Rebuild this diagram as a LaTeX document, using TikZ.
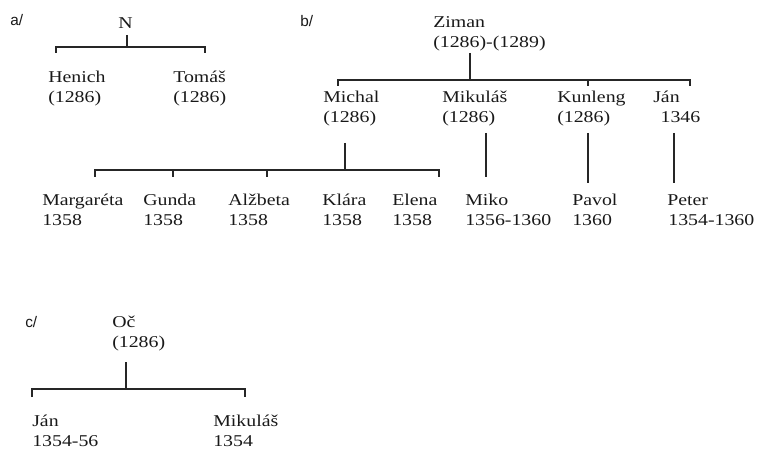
\documentclass[tikz,border=0pt]{standalone}
\usepackage{fontspec}
\setmainfont[FakeStretch=1.2]{Liberation Serif}
\newfontfamily\lblfont{Liberation Sans}
\begin{document}
\begin{tikzpicture}[x=0.75pt,y=-0.75pt,
  person/.style={anchor=north west,inner sep=0pt,align=left,text=black!90,
    font=\fontsize{12.4}{15}\selectfont},
  part/.style={anchor=base west,inner sep=0pt,text=black!90,font=\lblfont\fontsize{11.5}{13}\selectfont},
  link/.style={line width=0.8pt,draw=black!85}]
\useasboundingbox (0,0) rectangle (758,453);
% labels
\node[part] (la) at (10,26) {a/};
\node[part] (lb) at (300,27) {b/};
\node[part] (lc) at (25,327) {c/};
% tree a
\node[person] (N) at (118,14) {\strut N};
\node[person] (Henich) at (48,68) {\strut Henich\\\strut(1286)};
\node[person] (Tomas) at (173,68) {\strut Tomáš\\\strut(1286)};
% tree b
\node[person] (Ziman) at (433,13) {\strut Ziman\\\strut(1286)-(1289)};
\node[person] (Michal) at (323,88) {\strut Michal\\\strut(1286)};
\node[person] (Mikulas) at (442,88) {\strut Mikuláš\\\strut(1286)};
\node[person] (Kunleng) at (557,88) {\strut Kunleng\\\strut(1286)};
\node[person] (Jan) at (653,88) {\strut Ján\\\strut\hspace{5.5pt}1346};
\node[person] (Margareta) at (42,191) {\strut Margaréta\\\strut 1358};
\node[person] (Gunda) at (143,191) {\strut Gunda\\\strut 1358};
\node[person] (Alzbeta) at (228,191) {\strut Alžbeta\\\strut 1358};
\node[person] (Klara) at (322,191) {\strut Klára\\\strut 1358};
\node[person] (Elena) at (392,191) {\strut Elena\\\strut 1358};
\node[person] (Miko) at (465,191) {\strut Miko\\\strut 1356-1360};
\node[person] (Pavol) at (572,191) {\strut Pavol\\\strut 1360};
\node[person] (Peter) at (667,191) {\strut Peter\\\strut\hspace{0.8pt}1354-1360};
% tree c
\node[person] (Oc) at (112,313) {\strut Oč\\\strut(1286)};
\node[person] (Jan2) at (32,412) {\strut Ján\\\strut 1354-56};
\node[person] (Mikulas2) at (213,412) {\strut Mikuláš\\\strut 1354};
% tree a connectors
\coordinate (aT) at (127,35);
\coordinate (aM) at (127,47);
\coordinate (aL) at (56,47);
\coordinate (aR) at (205,47);
\coordinate (aLd) at (56,53);
\coordinate (aRd) at (205,53);
\draw[link] (aT) -- (aM);
\draw[link] (aLd) -- (aL) -- (aR) -- (aRd);
% tree b connectors
\coordinate (bT) at (470,53);
\coordinate (bM) at (470,80);
\coordinate (bL) at (338,80);
\coordinate (bR) at (690,80);
\coordinate (bLd) at (338,86);
\coordinate (bRd) at (690,86);
\coordinate (bK) at (588,80);
\coordinate (bKd) at (588,86);
\draw[link] (bT) -- (bM);
\draw[link] (bLd) -- (bL) -- (bR) -- (bRd);
\draw[link] (bK) -- (bKd);
% Michal's children
\coordinate (mT) at (345,143);
\coordinate (mM) at (345,170);
\coordinate (mL) at (95,170);
\coordinate (mR) at (439,170);
\coordinate (mLd) at (95,177);
\coordinate (mRd) at (439,177);
\coordinate (mG) at (173,170);
\coordinate (mGd) at (173,177);
\coordinate (mA) at (267,170);
\coordinate (mAd) at (267,177);
\draw[link] (mT) -- (mM);
\draw[link] (mLd) -- (mL) -- (mR) -- (mRd);
\draw[link] (mG) -- (mGd);
\draw[link] (mA) -- (mAd);
% single lines
\coordinate (kT) at (486,133);
\coordinate (kB) at (486,177);
\draw[link] (kT) -- (kB);
\coordinate (pT) at (588,133);
\coordinate (pB) at (588,183);
\draw[link] (pT) -- (pB);
\coordinate (qT) at (674,133);
\coordinate (qB) at (674,183);
\draw[link] (qT) -- (qB);
% tree c connectors
\coordinate (cT) at (126,362);
\coordinate (cM) at (126,389);
\coordinate (cL) at (32,389);
\coordinate (cR) at (245,389);
\coordinate (cLd) at (32,397);
\coordinate (cRd) at (245,397);
\draw[link] (cT) -- (cM);
\draw[link] (cLd) -- (cL) -- (cR) -- (cRd);
\end{tikzpicture}
\end{document}
